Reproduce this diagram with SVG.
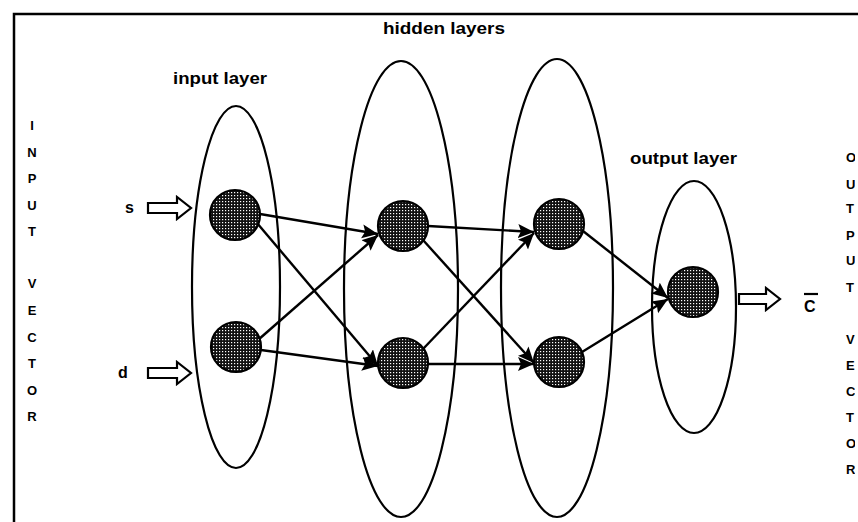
<svg xmlns="http://www.w3.org/2000/svg" width="858" height="522" viewBox="0 0 858 522">
<style>
.lbl{font-family:"Liberation Sans",Arial,sans-serif;font-weight:bold;font-size:16px;fill:#000}
.vl{font-family:"Liberation Sans",Arial,sans-serif;font-weight:bold;font-size:13px;fill:#000}
.layer{fill:none;stroke:#000;stroke-width:2.2}
.node{fill:url(#dots);stroke:#000;stroke-width:2.2}
.conn line{stroke:#000;stroke-width:2.4;marker-end:url(#ah)}
.blk{fill:#fff;stroke:#000;stroke-width:2.2;stroke-linejoin:miter}
</style>
<defs>
<pattern id="dots" width="3" height="3" patternUnits="userSpaceOnUse">
<rect width="3" height="3" fill="#111"/>
<rect x="0" y="0" width="1.2" height="1.2" fill="#fff"/>
</pattern>
<marker id="ah" markerUnits="userSpaceOnUse" markerWidth="20" markerHeight="16" refX="16" refY="7" orient="auto">
<path d="M0,0 L16,7 L0,14 L3,7 Z" fill="#000"/>
</marker>
<clipPath id="edge"><rect x="0" y="0" width="855" height="522"/></clipPath>
</defs>
<rect width="858" height="522" fill="#fff"/>
<g id="frame">
<path d="M14,522 L14,14 L858,14" fill="none" stroke="#000" stroke-width="2.5"/>
</g>
<g id="layers">
<ellipse id="input-layer" class="layer" cx="236" cy="287" rx="44" ry="181"/>
<ellipse id="hidden-layer-1" class="layer" cx="401" cy="289" rx="57" ry="228"/>
<ellipse id="hidden-layer-2" class="layer" cx="557" cy="288" rx="56" ry="229"/>
<ellipse id="output-layer" class="layer" cx="694" cy="307" rx="42" ry="126"/>
</g>
<g id="labels">
<text class="lbl" x="173" y="84" textLength="94" lengthAdjust="spacingAndGlyphs">input layer</text>
<text class="lbl" x="383" y="34" textLength="122" lengthAdjust="spacingAndGlyphs">hidden layers</text>
<text class="lbl" x="630" y="164" textLength="107" lengthAdjust="spacingAndGlyphs">output layer</text>
</g>
<g id="input-vector" class="vl" text-anchor="middle">
<text x="32" y="130">I</text>
<text x="32" y="157">N</text>
<text x="32" y="183">P</text>
<text x="32" y="210">U</text>
<text x="32" y="236">T</text>
<text x="32" y="288">V</text>
<text x="32" y="315">E</text>
<text x="32" y="342">C</text>
<text x="32" y="368">T</text>
<text x="32" y="395">O</text>
<text x="32" y="421">R</text>
</g>
<g id="output-vector" class="vl" clip-path="url(#edge)">
<text x="846" y="162">O</text>
<text x="846" y="189">U</text>
<text x="846" y="213">T</text>
<text x="846" y="240">P</text>
<text x="846" y="265">U</text>
<text x="846" y="292">T</text>
<text x="846" y="344">V</text>
<text x="846" y="370">E</text>
<text x="846" y="396">C</text>
<text x="846" y="422">T</text>
<text x="846" y="448">O</text>
<text x="846" y="474">R</text>
</g>
<g id="input-s">
<text class="lbl" x="125" y="213" font-size="17">s</text>
<polygon class="blk" points="148,203 177,203 177,197 191,208 177,219 177,213 148,213"/>
</g>
<g id="input-d">
<text class="lbl" x="118" y="378" font-size="17">d</text>
<polygon class="blk" points="148,368 177,368 177,362 191,373 177,384 177,378 148,378"/>
</g>
<g id="output-c">
<polygon class="blk" points="739,294 766,294 766,288 780,299 766,310 766,304 739,304"/>
<text class="lbl" x="804" y="312" font-size="16">C</text>
<line x1="804" y1="294" x2="818" y2="294" stroke="#000" stroke-width="2.2"/>
</g>
<g id="connectors" class="conn">
<line x1="260" y1="214" x2="378" y2="234"/>
<line x1="257" y1="223" x2="378" y2="366"/>
<line x1="258" y1="340" x2="378" y2="235"/>
<line x1="261" y1="350" x2="378" y2="366"/>
<line x1="428" y1="226" x2="534" y2="232"/>
<line x1="423" y1="240" x2="534" y2="363"/>
<line x1="423" y1="349" x2="534" y2="233"/>
<line x1="428" y1="364" x2="534" y2="364"/>
<line x1="583" y1="231" x2="668" y2="298"/>
<line x1="582" y1="352" x2="668" y2="299"/>
</g>
<g id="node-s"><circle class="node" cx="235" cy="215" r="25"/></g>
<g id="node-d"><circle class="node" cx="236" cy="347" r="25"/></g>
<g id="node-h1a"><circle class="node" cx="403" cy="226" r="25"/></g>
<g id="node-h1b"><circle class="node" cx="403" cy="363" r="25"/></g>
<g id="node-h2a"><circle class="node" cx="559" cy="224" r="25"/></g>
<g id="node-h2b"><circle class="node" cx="559" cy="362" r="25"/></g>
<g id="node-out"><circle class="node" cx="693" cy="292" r="25"/></g>
</svg>
